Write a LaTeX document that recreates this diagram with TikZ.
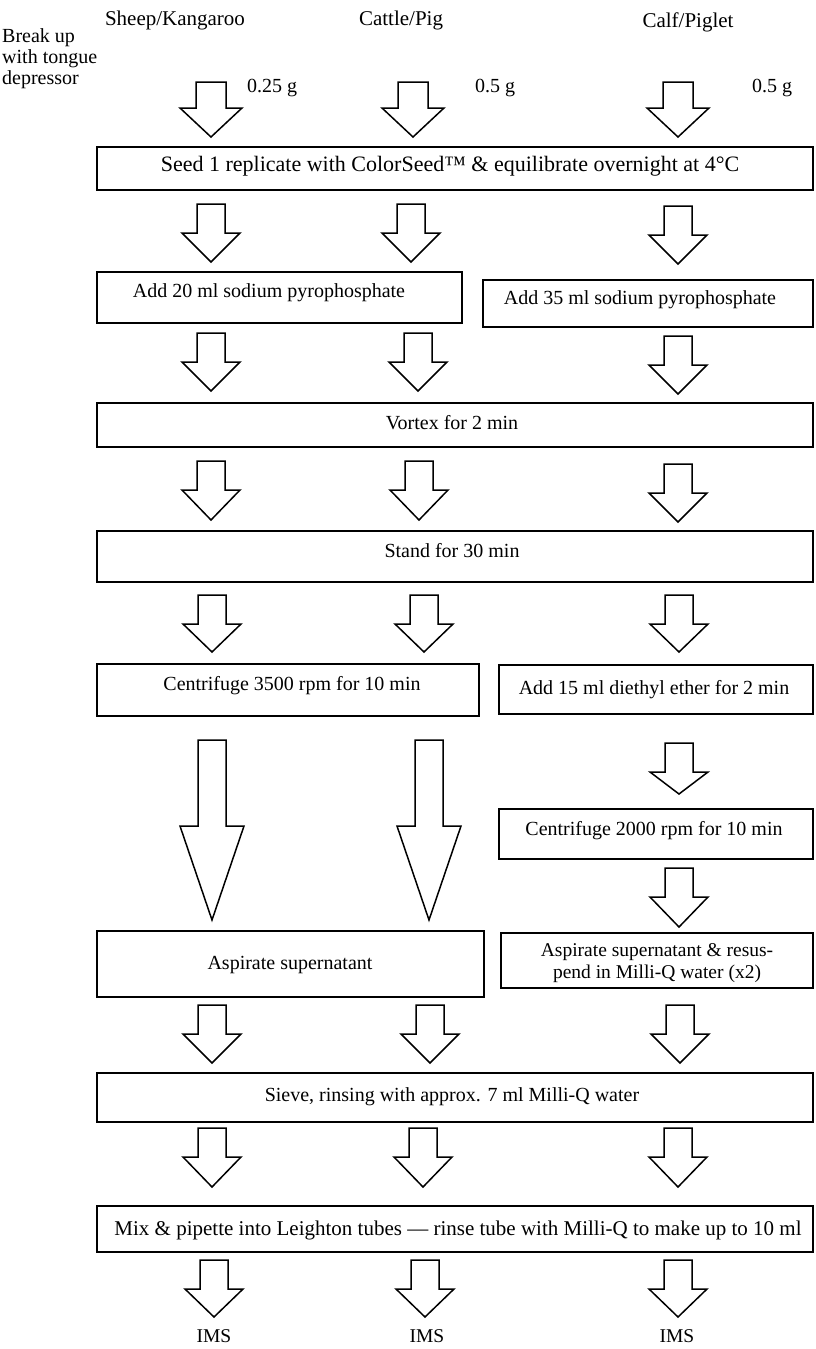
\documentclass[tikz,border=0pt]{standalone}
\usepackage{fontspec}
\setmainfont{Liberation Serif}
\newcommand\barr[6]{%
  \draw[arr] (#1-#5,#2) -- (#1+#5,#2) -- (#1+#5,#3) -- (#1+#6,#3) -- (#1,#4) -- (#1-#6,#3) -- (#1-#5,#3) -- cycle;}
\newcommand\sarr[3]{\barr{#1}{#2}{#2+29}{#3}{14}{29}}
\begin{document}
\begin{tikzpicture}[x=1pt,y=-1pt,
  arr/.style={draw=black,line width=1.5pt,line join=miter,fill=white},
  frame/.style={draw=black,line width=2.1pt},
  txt/.style={inner sep=0pt,font=\fontsize{20}{23}\selectfont},
  head/.style={font=\fontsize{21}{24}\selectfont,inner sep=0pt},
  lab/.style={font=\fontsize{20}{23}\selectfont,inner sep=0pt},
]
\useasboundingbox (0,0) rectangle (815,1349);
% headers
\node[head] (h1) at (175,20) {Sheep/Kangaroo};
\node[head] (h2) at (401,20) {Cattle/Pig};
\node[head] (h3) at (688,22) {Calf/Piglet};
\node[lab,anchor=north west,align=left,font=\fontsize{20}{21}\selectfont] (brk) at (2,28) {Break up\\with tongue\\depressor};
% row 1
\barr{211}{82}{108}{137}{15}{31}
\barr{413}{82}{108}{137}{15}{31}
\barr{678}{82}{108}{137}{15}{31}
\node[lab,anchor=west] (g1) at (247,88) {0.25 g};
\node[lab,anchor=west] (g2) at (475,88) {0.5 g};
\node[lab,anchor=west] (g3) at (752,88) {0.5 g};
% seed
\draw[frame] (97,147) rectangle (813,190);
\node[txt,font=\fontsize{22}{25}\selectfont] (seed) at (450,166) {Seed 1 replicate with ColorSeed™ \& equilibrate overnight at 4°C};
% row 2
\sarr{211}{204}{262}
\sarr{411}{204}{262}
\sarr{678}{206}{264}
\draw[frame] (97,272) rectangle (462,323);
\node[txt] (add20) at (269,293) {Add 20 ml sodium pyrophosphate};
\draw[frame] (483,280) rectangle (813,327);
\node[txt] (add35) at (640,300) {Add 35 ml sodium pyrophosphate};
% row 3
\sarr{211}{333}{391}
\sarr{418}{333}{391}
\sarr{678}{336}{394}
\draw[frame] (97,403) rectangle (813,447);
\node[txt] (vortex) at (452,423) {Vortex for 2 min};
% row 4
\sarr{211}{461}{520}
\sarr{419}{461}{520}
\sarr{678}{464}{522}
\draw[frame] (97,531) rectangle (813,582);
\node[txt] (stand) at (452,551) {Stand for 30 min};
% row 5
\sarr{212}{595}{652}
\sarr{424}{595}{652}
\sarr{679}{595}{652}
\draw[frame] (97,664) rectangle (479,716);
\node[txt] (c3500) at (292,686) {Centrifuge 3500 rpm for 10 min};
\draw[frame] (499,665) rectangle (813,714);
\node[txt] (ether) at (654,690) {Add 15 ml diethyl ether for 2 min};
% long arrows
\barr{212}{740}{826}{920}{14}{32}
\barr{429}{740}{826}{920}{14}{32}
% right column
\sarr{679}{743}{794}
\draw[frame] (499,809) rectangle (813,859);
\node[txt] (c2000) at (654,831) {Centrifuge 2000 rpm for 10 min};
\sarr{679}{868}{927}
\draw[frame] (97,931) rectangle (484,997);
\node[txt] (asp) at (290,965) {Aspirate supernatant};
\draw[frame] (501,933) rectangle (813,988);
\node[txt,align=center,font=\fontsize{19.5}{22}\selectfont] (asp2) at (657,963) {Aspirate supernatant \& resus-\\pend in Milli-Q water (x2)};
% row after aspirate
\sarr{212}{1005}{1063}
\sarr{430}{1005}{1063}
\sarr{680}{1005}{1063}
\draw[frame] (97,1073) rectangle (813,1122);
\node[txt] (sieve) at (452,1097) {Sieve, rinsing with approx. 7 ml Milli-Q water};
\sarr{212}{1128}{1187}
\sarr{423}{1128}{1187}
\sarr{678}{1128}{1187}
\draw[frame] (97,1206) rectangle (813,1252);
\node[txt,font=\fontsize{21}{24}\selectfont] (mix) at (458,1230) {Mix \& pipette into Leighton tubes — rinse tube with Milli-Q to make up to 10 ml};
\sarr{214}{1260}{1317}
\sarr{425}{1260}{1317}
\sarr{678}{1260}{1317}
\node[lab,font=\fontsize{19.5}{22}\selectfont] (ims1) at (214,1336) {IMS};
\node[lab,font=\fontsize{19.5}{22}\selectfont] (ims2) at (427,1336) {IMS};
\node[lab,font=\fontsize{19.5}{22}\selectfont] (ims3) at (677,1336) {IMS};
\end{tikzpicture}
\end{document}
